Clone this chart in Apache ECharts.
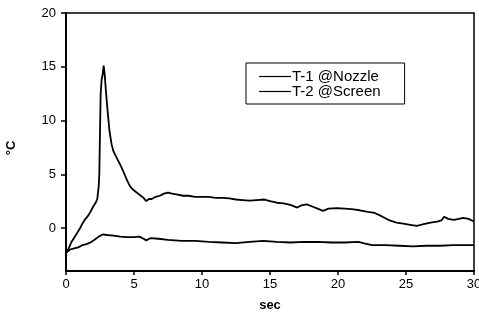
<!DOCTYPE html>
<html>
<head>
<meta charset="utf-8">
<script src="https://cdn.jsdelivr.net/npm/echarts@6/dist/echarts.min.js"></script>
<style>
  html, body { margin: 0; padding: 0; background: #fff; }
  #chart { width: 479px; height: 312px; }
</style>
</head>
<body>
<div id="chart"></div>
<script>
// T-1 @Nozzle : [sec, °C]
const t1Data = [
  [0, -2.3], [0.2, -1.9], [0.4, -1.3], [0.6, -0.9], [0.8, -0.5], [1.0, -0.1],
  [1.2, 0.4], [1.4, 0.8], [1.6, 1.1], [1.8, 1.5], [2.0, 2.0], [2.2, 2.4],
  [2.3, 2.7], [2.4, 3.8], [2.45, 5.0], [2.5, 9.0], [2.55, 12.5], [2.62, 13.8],
  [2.7, 14.3], [2.77, 15.1], [2.85, 14.2], [2.95, 12.5], [3.05, 11.0], [3.2, 9.0],
  [3.35, 7.8], [3.5, 7.1], [3.7, 6.6], [3.9, 6.1], [4.1, 5.6], [4.3, 5.0],
  [4.5, 4.4], [4.7, 3.9], [4.9, 3.6], [5.1, 3.4], [5.3, 3.2], [5.5, 3.0],
  [5.7, 2.8], [5.9, 2.5], [6.1, 2.7], [6.3, 2.7], [6.6, 2.9], [6.9, 3.0],
  [7.2, 3.2], [7.5, 3.3], [7.8, 3.2], [8.2, 3.1], [8.6, 3.0], [9.0, 3.0],
  [9.5, 2.9], [10.0, 2.9], [10.5, 2.9], [11.0, 2.8], [11.5, 2.8], [12.0, 2.75],
  [12.5, 2.65], [13.0, 2.6], [13.5, 2.55], [14.0, 2.6], [14.6, 2.65], [15.0, 2.5],
  [15.5, 2.35], [16.0, 2.3], [16.5, 2.15], [17.0, 1.9], [17.3, 2.1], [17.7, 2.2],
  [18.1, 2.0], [18.5, 1.8], [18.9, 1.6], [19.3, 1.8], [19.9, 1.85], [20.5, 1.8],
  [21.0, 1.75], [21.6, 1.65], [22.2, 1.5], [22.7, 1.4], [23.2, 1.1], [23.8, 0.7],
  [24.3, 0.5], [24.8, 0.4], [25.3, 0.3], [25.8, 0.2], [26.3, 0.35], [26.8, 0.5],
  [27.3, 0.6], [27.6, 0.7], [27.8, 1.05], [28.1, 0.85], [28.5, 0.75], [28.9, 0.85],
  [29.2, 0.95], [29.6, 0.85], [30.0, 0.6]
];

// T-2 @Screen : [sec, °C]
const t2Data = [
  [0, -2.3], [0.3, -2.0], [0.6, -1.9], [0.9, -1.8], [1.2, -1.6], [1.5, -1.5],
  [1.8, -1.35], [2.1, -1.1], [2.4, -0.8], [2.7, -0.6], [3.0, -0.65], [3.5, -0.7],
  [4.0, -0.8], [4.5, -0.85], [5.0, -0.85], [5.4, -0.8], [5.7, -1.0], [5.9, -1.15],
  [6.2, -0.95], [6.8, -1.0], [7.5, -1.1], [8.5, -1.2], [9.5, -1.2], [10.5, -1.3],
  [11.5, -1.35], [12.5, -1.4], [13.5, -1.3], [14.5, -1.2], [15.5, -1.3], [16.5, -1.35],
  [17.5, -1.3], [18.5, -1.3], [19.5, -1.35], [20.5, -1.35], [21.5, -1.3], [22.0, -1.45],
  [22.5, -1.6], [23.5, -1.6], [24.5, -1.65], [25.5, -1.7], [26.5, -1.65], [27.5, -1.65],
  [28.5, -1.6], [29.5, -1.6], [30.0, -1.6]
];

const seriesNames = ['T-1 @Nozzle', 'T-2 @Screen'];
const yTicks = [0, 5, 10, 15, 20];

const font = 'Liberation Sans, Arial, sans-serif';
const chart = echarts.init(document.getElementById('chart'));

chart.setOption({
  backgroundColor: '#fff',
  animation: false,
  grid: {
    left: 66, right: 5, top: 13, bottom: 41,
    containLabel: false,
    outerBoundsMode: 'none',
    show: true,
    borderColor: '#000',
    borderWidth: 1.5
  },
  legend: {
    data: seriesNames,
    orient: 'vertical',
    left: 246,
    top: 63,
    padding: [6, 24, 5, 13],
    itemGap: 0,
    itemWidth: 32,
    itemHeight: 1.2,
    icon: 'rect',
    borderColor: '#000',
    borderWidth: 1,
    textStyle: { color: '#000', fontFamily: font, fontSize: 15, padding: [0, 0, 0, -4] }
  },
  xAxis: {
    type: 'value',
    min: 0, max: 30, interval: 5,
    name: 'sec',
    nameLocation: 'middle',
    nameGap: 28,
    nameTextStyle: { color: '#000', fontFamily: font, fontSize: 13, fontWeight: 'bold' },
    axisLine: { onZero: false, lineStyle: { color: '#000', width: 2 } },
    axisTick: { length: 4, lineStyle: { color: '#000', width: 1.5 } },
    axisLabel: { color: '#000', fontFamily: font, fontSize: 13, margin: 7 },
    splitLine: { show: false }
  },
  yAxis: {
    type: 'value',
    min: -4, max: 20,
    name: '°C',
    nameLocation: 'middle',
    nameGap: 48,
    nameRotate: 90,
    nameTextStyle: { color: '#000', fontFamily: font, fontSize: 13, fontWeight: 'bold', padding: [0, 0, 0, -12] },
    axisLine: { show: true, onZero: false, lineStyle: { color: '#000', width: 2 } },
    axisTick: { show: true, length: 5, customValues: yTicks, lineStyle: { color: '#000', width: 1.5 } },
    axisLabel: { color: '#000', fontFamily: font, fontSize: 13, margin: 10, customValues: yTicks },
    splitLine: { show: false }
  },
  series: [
    {
      name: seriesNames[0],
      type: 'line',
      data: t1Data,
      symbol: 'none',
      lineStyle: { color: '#000', width: 1.8 },
      itemStyle: { color: '#000' }
    },
    {
      name: seriesNames[1],
      type: 'line',
      data: t2Data,
      symbol: 'none',
      lineStyle: { color: '#000', width: 1.8 },
      itemStyle: { color: '#000' }
    }
  ]
});
</script>
</body>
</html>
